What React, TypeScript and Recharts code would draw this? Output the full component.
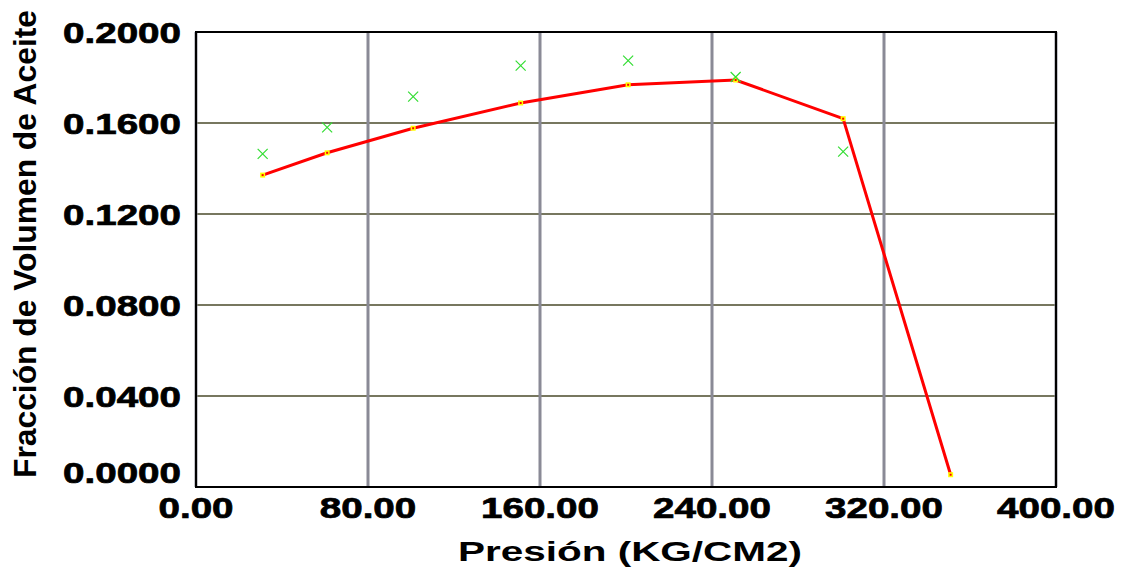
import React from "react";
import {
  ComposedChart,
  Line,
  Scatter,
  XAxis,
  YAxis,
  CartesianGrid,
  ReferenceArea,
} from "recharts";

// presión (kg/cm2) y fracción de volumen de aceite
const pressures = [31, 61, 101, 151, 201, 251, 301, 351];
const calcFraction = [0.1371, 0.1469, 0.1577, 0.1688, 0.1768, 0.1789, 0.1619, 0.0054];
const expPressures = [31, 61, 101, 151, 201, 251, 301];
const expFraction = [0.1464, 0.1581, 0.1716, 0.1852, 0.1874, 0.1802, 0.1474];

const xTicks = [0, 80, 160, 240, 320, 400];
const yTicks = [0, 0.04, 0.08, 0.12, 0.16, 0.2];

const calcData = pressures.map((p, i) => ({ p, frac: calcFraction[i] }));
const expData = expPressures.map((p, i) => ({ p, frac: expFraction[i] }));

const FONT = "'Liberation Sans', Arial, sans-serif";

const XTick = (props: any) => {
  const { x, y, payload } = props;
  return (
    <g transform={`translate(${x},${y + 23}) scale(1.33,1)`}>
      <text
        x={0}
        y={0}
        textAnchor="middle"
        fontFamily={FONT}
        fontWeight="bold"
        fontSize={29}
        fill="#000"
        stroke="#000"
        strokeWidth={0.7}
      >
        {Number(payload.value).toFixed(2)}
      </text>
    </g>
  );
};

const YTick = (props: any) => {
  const { y, payload } = props;
  const shift = payload.value === 0 ? -15 : 0;
  return (
    <g transform={`translate(181,${y + 10.5 + shift}) scale(1.33,1)`}>
      <text
        x={0}
        y={0}
        textAnchor="end"
        fontFamily={FONT}
        fontWeight="bold"
        fontSize={29}
        fill="#000"
        stroke="#000"
        strokeWidth={0.7}
      >
        {Number(payload.value).toFixed(4)}
      </text>
    </g>
  );
};

const CalcDot = (props: any) => {
  const { cx, cy, index } = props;
  if (cx == null || cy == null) return null;
  return (
    <g key={`d${index}`}>
      <rect x={cx - 2.5} y={cy - 2.5} width={5} height={5} fill="#ffff00" />
      <rect x={cx - 1} y={cy - 1} width={2} height={2} fill="#ff0000" />
    </g>
  );
};

const CrossShape = (props: any) => {
  const { cx, cy } = props;
  const s = 5;
  return (
    <path
      d={`M${cx - s},${cy - s}L${cx + s},${cy + s}M${cx - s},${cy + s}L${cx + s},${cy - s}`}
      stroke="#33dd33"
      strokeWidth={1.2}
      fill="none"
    />
  );
};

export default function App() {
  return (
    <div style={{ position: "absolute", left: 0, top: 0, width: 1123, height: 569, background: "#fff" }}>
      <ComposedChart
        width={1123}
        height={569}
        data={calcData}
        margin={{ top: 32, right: 67, left: 0, bottom: 0 }}
      >
        <CartesianGrid horizontal={true} vertical={false} stroke="#77775f" strokeWidth={2} />
        <CartesianGrid horizontal={false} vertical={true} stroke="#8a8a96" strokeWidth={3} />
        <XAxis
          dataKey="p"
          type="number"
          domain={[0, 400]}
          ticks={xTicks}
          tick={<XTick />}
          axisLine={false}
          tickLine={false}
          height={82}
          interval={0}
        />
        <YAxis
          type="number"
          domain={[0, 0.2]}
          ticks={yTicks}
          tick={<YTick />}
          axisLine={false}
          tickLine={false}
          width={196}
          interval={0}
        />
        <ReferenceArea x1={0} x2={400} y1={0} y2={0.2} fill="none" stroke="#000" strokeWidth={2} strokeOpacity={1} />
        <Line
          dataKey="frac"
          stroke="#ff0000"
          strokeWidth={3}
          dot={<CalcDot />}
          activeDot={false}
          isAnimationActive={false}
        />
        <Scatter data={expData} dataKey="frac" shape={<CrossShape />} isAnimationActive={false} />
        <text
          transform="translate(36,478) rotate(-90)"
          x={0}
          y={0}
          textLength={468}
          lengthAdjust="spacingAndGlyphs"
          fontFamily={FONT}
          fontWeight="bold"
          fontSize={31}
          fill="#000"
        >
          Fracción de Volumen de Aceite
        </text>
        <text
          x={458}
          y={561}
          textLength={344}
          lengthAdjust="spacingAndGlyphs"
          fontFamily={FONT}
          fontWeight="bold"
          fontSize={28}
          fill="#000"
        >
          Presión (KG/CM2)
        </text>
      </ComposedChart>
    </div>
  );
}
